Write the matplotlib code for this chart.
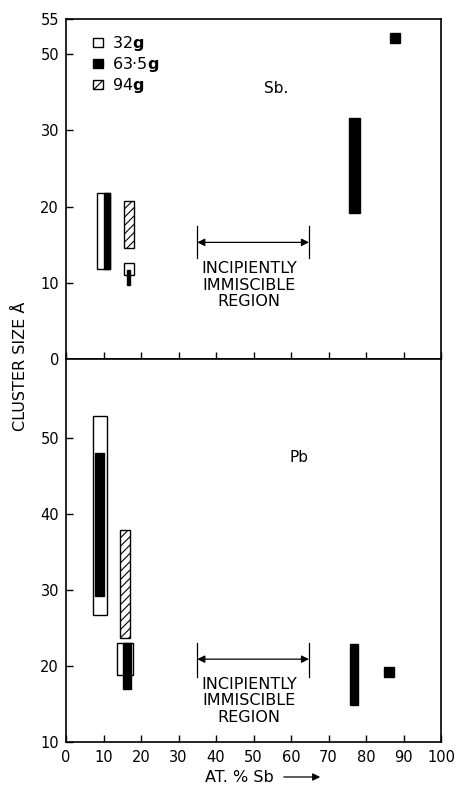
import numpy as np
import matplotlib
matplotlib.use("Agg")
import matplotlib.pyplot as plt
from matplotlib.patches import Patch, FancyArrowPatch

plt.rcParams['font.family'] = ['DejaVu Sans']
plt.rcParams['hatch.linewidth'] = 0.8

# ---- data: composition range (at.% Sb) and cluster size range (A) ----
# Sb-rich side panel ("Sb.")
sb_32_comp_lo = [8.3, 15.5]
sb_32_comp_hi = [11.7, 18.1]
sb_32_size_lo = [11.8, 11.0]
sb_32_size_hi = [21.8, 12.6]

sb_63_comp_lo = [10.1, 16.3, 75.5]
sb_63_comp_hi = [11.7, 17.1, 78.4]
sb_63_size_lo = [11.8, 9.7, 19.2]
sb_63_size_hi = [21.8, 11.7, 33.2]

sb_94_comp_lo = [15.5]
sb_94_comp_hi = [18.1]
sb_94_size_lo = [14.6]
sb_94_size_hi = [20.7]

sb_63_point_comp = [87.7]
sb_63_point_size = [52.3]

# Pb panel
pb_32_comp_lo = [7.2, 13.6]
pb_32_comp_hi = [10.9, 17.9]
pb_32_size_lo = [26.7, 18.8]
pb_32_size_hi = [52.9, 23.0]

pb_63_comp_lo = [7.7, 15.2, 75.7]
pb_63_comp_hi = [10.1, 17.3, 77.9]
pb_63_size_lo = [29.2, 17.0, 14.9]
pb_63_size_hi = [48.0, 23.0, 22.9]

pb_94_comp_lo = [14.4]
pb_94_comp_hi = [17.1]
pb_94_size_lo = [23.7]
pb_94_size_hi = [37.9]

pb_63_point_comp = [86.0]
pb_63_point_size = [19.2]

x_ticks = [0, 10, 20, 30, 40, 50, 60, 70, 80, 90, 100]
top_y_ticks = [0, 10, 20, 30, 50, 55]
bot_y_ticks = [10, 20, 30, 40, 50]
legend_labels = ['32$\\mathbf{g}$', '63·5$\\mathbf{g}$', '94$\\mathbf{g}$']


# broken y scale in the top panel: 30 -> 50 squeezed
def fwd(v):
    v = np.asarray(v, dtype=float)
    return np.where(v <= 30, v, np.where(v <= 50, 30 + (v - 30) * 0.5, 40 + (v - 50) * 0.92))


def inv(u):
    u = np.asarray(u, dtype=float)
    return np.where(u <= 30, u, np.where(u <= 40, 30 + (u - 30) * 2, 50 + (u - 40) / 0.92))


def bars(ax, clo, chi, slo, shi, style):
    clo, chi = np.array(clo), np.array(chi)
    slo, shi = np.array(slo), np.array(shi)
    ax.bar(clo, shi - slo, width=chi - clo, bottom=slo, align='edge', **style)


open_style = dict(facecolor='white', edgecolor='black', linewidth=1.0)
black_style = dict(facecolor='black', edgecolor='black', linewidth=1.0)
hatch_style = dict(facecolor='white', edgecolor='black', linewidth=1.0, hatch='////')

fig = plt.figure(figsize=(4.62, 7.88), dpi=100)
ax_top = fig.add_axes([0.1429, 0.5444, 0.8117, 0.4315])
ax_bot = fig.add_axes([0.1429, 0.0584, 0.8117, 0.4860])

# top panel
ax_top.set_yscale('function', functions=(fwd, inv))
bars(ax_top, sb_32_comp_lo, sb_32_comp_hi, sb_32_size_lo, sb_32_size_hi, open_style)
bars(ax_top, sb_63_comp_lo, sb_63_comp_hi, sb_63_size_lo, sb_63_size_hi, black_style)
bars(ax_top, sb_94_comp_lo, sb_94_comp_hi, sb_94_size_lo, sb_94_size_hi, hatch_style)
ax_top.plot(sb_63_point_comp, sb_63_point_size, 's', color='black', markersize=7.5)
ax_top.set_ylim(0, 55)
ax_top.set_yticks(top_y_ticks)
ax_top.set_xticks(x_ticks)
ax_top.set_xticklabels([])
ax_top.text(0.56, 0.797, 'Sb.', transform=ax_top.transAxes, ha='center', va='center', fontsize=11)

handles = [Patch(**open_style), Patch(**black_style), Patch(**hatch_style)]
ax_top.legend(handles, legend_labels, loc='upper left', bbox_to_anchor=(0.073, 0.955),
              frameon=False, handlelength=0.58, handleheight=0.45, handletextpad=0.6,
              labelspacing=0.12, borderaxespad=0, borderpad=0, fontsize=11.5)

# bottom panel
bars(ax_bot, pb_32_comp_lo, pb_32_comp_hi, pb_32_size_lo, pb_32_size_hi, open_style)
bars(ax_bot, pb_63_comp_lo, pb_63_comp_hi, pb_63_size_lo, pb_63_size_hi, black_style)
bars(ax_bot, pb_94_comp_lo, pb_94_comp_hi, pb_94_size_lo, pb_94_size_hi, hatch_style)
ax_bot.plot(pb_63_point_comp, pb_63_point_size, 's', color='black', markersize=6.5)
ax_bot.set_ylim(10, 60.4)
ax_bot.set_yticks(bot_y_ticks)
ax_bot.set_xticks(x_ticks)
ax_bot.text(0.62, 0.742, 'Pb', transform=ax_bot.transAxes, ha='center', va='center', fontsize=11)

for ax in (ax_top, ax_bot):
    ax.set_xlim(0, 100)
    ax.tick_params(direction='in', length=5, width=1, labelsize=10.5, colors='black')
    ax.tick_params(axis='x', pad=6)
    ax.tick_params(axis='y', pad=5)
    for s in ax.spines.values():
        s.set_linewidth(1.2)


# incipiently immiscible region brackets
def region(ax, y0, y1, ya, ytxt):
    for xb in (35.0, 64.8):
        ax.plot([xb, xb], [y0, y1], color='black', linewidth=0.9)
    ax.annotate('', xy=(35.0, ya), xytext=(64.8, ya),
                arrowprops=dict(arrowstyle='<|-|>', color='black', lw=0.9,
                                mutation_scale=11, shrinkA=0, shrinkB=0))
    ax.text(48.8, ytxt, 'INCIPIENTLY\nIMMISCIBLE\nREGION', ha='center', va='center',
            fontsize=11.5, linespacing=1.1)


region(ax_top, 13.3, 17.4, 15.3, 9.7)
region(ax_bot, 18.6, 23.0, 20.9, 15.4)

fig.text(20 / 462, 1 - 366 / 788, 'CLUSTER SIZE Å', rotation=90, ha='center', va='center', fontsize=11.5)
fig.text(239 / 462, 11 / 788, 'AT. % Sb', ha='center', va='center', fontsize=11.5)
fig.add_artist(FancyArrowPatch((281 / 462, 11 / 788), (323 / 462, 11 / 788),
                               transform=fig.transFigure, arrowstyle='-|>',
                               mutation_scale=11, color='black', lw=0.9))

fig.savefig('out.png', dpi=100)
